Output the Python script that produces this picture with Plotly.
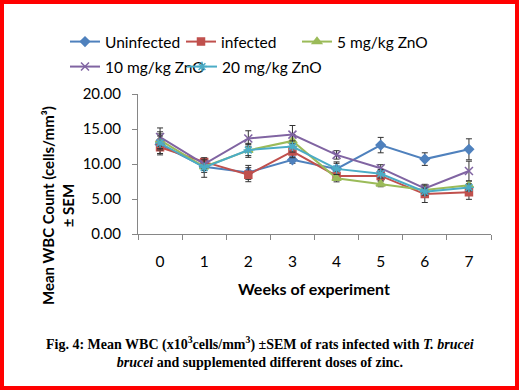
import plotly.graph_objects as go

weeks = ["0", "1", "2", "3", "4", "5", "6", "7"]

uninfected = [12.8, 9.6, 8.8, 10.6, 9.3, 12.7, 10.7, 12.1]
uninfected_sem = [1.5, 0.8, 1.0, 0.5, 1.0, 1.1, 0.9, 1.5]
infected = [12.4, 10.3, 8.47, 11.8, 8.3, 8.3, 5.7, 5.95]
infected_sem = [0.9, 0.5, 1.0, 0.9, 0.6, 0.7, 1.2, 1.0]
zno5 = [13.4, 9.6, 11.95, 13.3, 7.95, 7.15, 6.3, 6.95]
zno5_sem = [1.2, 0.5, 1.0, 0.9, 0.5, 0.4, 0.5, 0.6]
zno10 = [13.85, 10.0, 13.65, 14.2, 11.3, 9.4, 6.5, 9.0]
zno10_sem = [1.3, 0.6, 1.1, 1.3, 0.6, 0.5, 0.6, 1.4]
zno20 = [13.0, 9.5, 12.0, 12.5, 9.3, 8.6, 6.05, 6.65]
zno20_sem = [1.0, 1.4, 0.8, 0.8, 0.8, 0.6, 0.5, 0.5]

y_ticks = [0, 5, 10, 15, 20]
y_tick_labels = ["0.00", "5.00", "10.00", "15.00", "20.00"]

W, H = 520, 390
L, R, T, B = 138, 29, 94, 156
PW, PH = W - L - R, H - T - B


def px(x):
    return (x - L) / PW


def py(y):
    return (H - B - y) / PH


# (name, values, sem, colour, symbol, size, legend id, legend x, legend row y)
series = [
    ("Uninfected", uninfected, uninfected_sem, "#4F81BD", "diamond", 7, "legend", 65, 42),
    ("infected", infected, infected_sem, "#C0504D", "square", 7, "legend2", 181, 42),
    ("5 mg/kg ZnO", zno5, zno5_sem, "#9BBB59", "triangle-up", 8, "legend3", 297, 42),
    ("10 mg/kg ZnO", zno10, zno10_sem, "#8064A2", "x-thin", 8, "legend4", 65, 67),
    ("20 mg/kg ZnO", zno20, zno20_sem, "#4BACC6", "asterisk", 8, "legend5", 182, 67),
]

font_main = "Lato, 'Liberation Sans', sans-serif"

fig = go.Figure()
legends = {}
for name, vals, sem, color, sym, size, leg, lx, ly in series:
    fig.add_trace(go.Scatter(
        x=weeks, y=vals, name=name, mode="lines+markers",
        line=dict(color=color, width=2),
        marker=dict(symbol=sym, size=size, color=color,
                    line=dict(color=color, width=1.5)),
        error_y=dict(type="data", array=sem, visible=True,
                     color="#333333", thickness=1, width=3),
        legend=leg,
    ))
    legends[leg] = dict(orientation="h", x=px(lx), y=py(ly),
                        xanchor="left", yanchor="middle",
                        font=dict(size=15.5, family=font_main),
                        itemwidth=30, bgcolor="rgba(0,0,0,0)")

fig.update_layout(
    width=W, height=H,
    margin=dict(l=L, r=R, t=T, b=B, autoexpand=False),
    paper_bgcolor="white", plot_bgcolor="white",
    font=dict(family=font_main, size=15, color="#000000"),
    hovermode=False,
    xaxis=dict(type="category", range=[-0.5, 7.5], showgrid=False,
               showline=True, linecolor="#868686", linewidth=1,
               ticks="outside", tickson="boundaries", ticklen=5,
               tickcolor="#868686", tickfont=dict(size=15.5),
               ticklabelstandoff=13, zeroline=False),
    yaxis=dict(range=[0, 20], tickvals=y_ticks, ticktext=y_tick_labels,
               showgrid=False, showline=True, linecolor="#868686",
               linewidth=1, ticks="outside", ticklen=5,
               tickcolor="#868686", tickfont=dict(size=15),
               ticklabelstandoff=8, zeroline=False),
    showlegend=True,
    **legends,
)

fig.add_annotation(
    text="<b>Mean WBC Count (cells/mm³)<br>± SEM</b>",
    xref="paper", yref="paper", x=px(58), y=py(206),
    xanchor="center", yanchor="middle", textangle=-90,
    showarrow=False, font=dict(size=15, family=font_main), align="center",
)
fig.add_annotation(
    text="<b>Weeks of experiment</b>",
    xref="paper", yref="paper", x=px(314), y=py(288),
    xanchor="center", yanchor="middle", showarrow=False,
    font=dict(size=16, family=font_main),
)
fig.add_annotation(
    text=("<b>Fig. 4: Mean WBC (x10<sup>3</sup>cells/mm<sup>3</sup>) ±SEM of rats infected with <i>T. brucei</i>"
          "<br><i>brucei</i> and supplemented different doses of zinc.</b>"),
    xref="paper", yref="paper", x=px(260), y=py(351.5),
    xanchor="center", yanchor="middle", showarrow=False, align="center",
    font=dict(size=14, family="'Liberation Serif', 'Times New Roman', serif"),
)

fig.add_shape(type="rect", xref="paper", yref="paper",
              x0=px(2), x1=px(517), y0=py(2), y1=py(388),
              line=dict(color="#FF0000", width=4), fillcolor="rgba(0,0,0,0)")

fig.write_html("out.html", config={"displayModeBar": False},
               post_script="document.body.style.margin='0';document.body.style.overflow='hidden';")
